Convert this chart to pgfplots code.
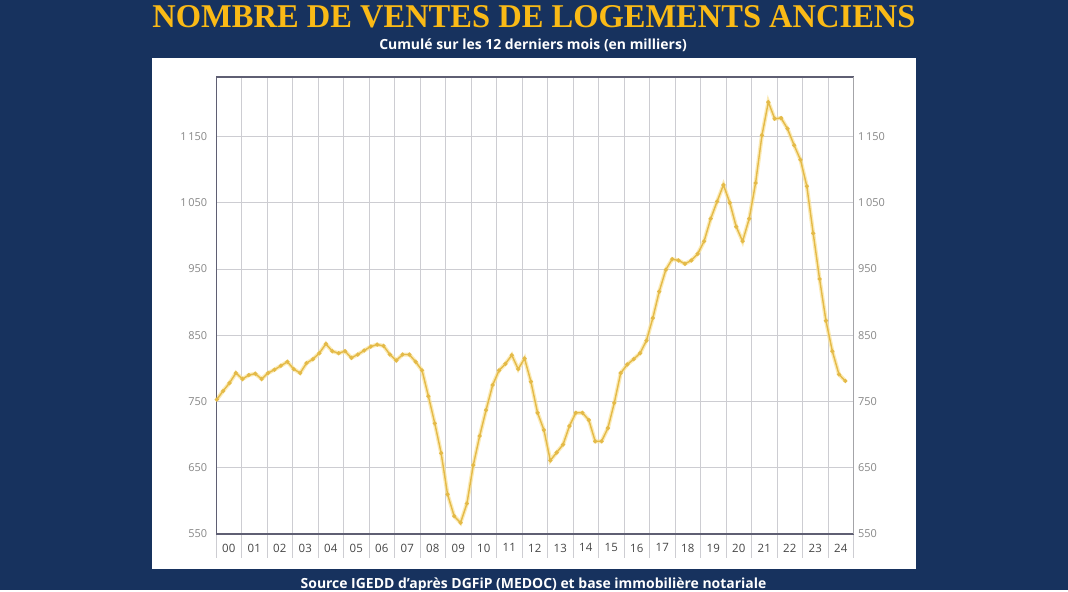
\documentclass[border=0pt]{standalone}
\usepackage{pgfplots}
\pgfplotsset{compat=1.18}
\usepackage{pgfplotstable}
\usepackage{graphicx}
\usepackage{fontspec}
\setmainfont{Open Sans}
\newfontfamily\titlefont{Liberation Serif}
\definecolor{navy}{RGB}{23,50,94}
\definecolor{titlegold}{RGB}{250,186,22}
\definecolor{linegold}{RGB}{228,186,72}
\definecolor{glowgold}{RGB}{250,226,150}
\definecolor{markgold}{RGB}{200,160,50}
\definecolor{gridgray}{RGB}{205,205,210}
\definecolor{axisdark}{RGB}{95,95,115}
\definecolor{ticklab}{RGB}{135,135,135}
\definecolor{xlab}{RGB}{70,70,70}

\pgfplotstableread{
x y
0.03 753
0.28 766
0.53 778
0.78 793
1.04 784
1.29 790
1.54 792
1.79 784
2.04 793
2.29 798
2.545 804
2.80 810
3.05 799
3.30 793
3.55 808
3.80 814
4.05 823
4.31 837
4.56 826
4.81 823
5.06 826
5.31 816
5.56 821
5.81 827
6.07 833
6.32 836
6.57 834
6.82 821
7.07 812
7.32 821
7.58 821
7.83 810
8.08 797
8.33 758
8.58 717
8.83 672
9.08 610
9.34 577
9.59 567
9.84 596
10.09 654
10.34 698
10.59 737
10.85 775
11.10 797
11.35 807
11.60 820
11.85 799
12.10 815
12.35 780
12.61 733
12.86 707
13.11 661
13.36 673
13.61 685
13.86 713
14.11 733
14.37 733
14.62 722
14.87 690
15.12 690
15.37 710
15.62 748
15.87 793
16.13 806
16.38 814
16.63 823
16.88 842
17.13 876
17.38 916
17.64 949
17.89 965
18.14 963
18.39 958
18.64 963
18.89 973
19.14 992
19.40 1026
19.65 1052
19.90 1077
20.15 1050
20.40 1014
20.65 992
20.91 1026
21.16 1080
21.41 1152
21.66 1202
21.91 1177
22.16 1178
22.41 1162
22.67 1137
22.92 1115
23.17 1075
23.42 1004
23.67 935
23.92 872
24.17 826
24.43 791
24.68 781
}\ventes

\begin{document}
\begin{tikzpicture}
\fill[navy] (0bp,0bp) rectangle (1068bp,590bp);
\fill[white] (152bp,21bp) rectangle (916bp,532bp);
\node[text=titlegold,inner sep=0pt] at (534bp,573bp) {\resizebox{763bp}{22bp}{\titlefont\bfseries NOMBRE DE VENTES DE LOGEMENTS ANCIENS}};
\node[text=white,inner sep=0pt,anchor=base] at (533bp,540bp) {\fontsize{14}{16}\selectfont\bfseries Cumulé sur les 12 derniers mois (en milliers)};
\node[text=white,inner sep=0pt,anchor=base] at (533.5bp,1.5bp) {\fontsize{14}{16}\selectfont\bfseries Source IGEDD d'après DGFiP (MEDOC) et base immobilière notariale};

\begin{axis}[
  at={(216bp,56bp)}, anchor=south west,
  width=637.5bp, height=457bp, scale only axis,
  xmin=0, xmax=25, ymin=550, ymax=1240,
  axis line style={draw=none},
  xtick={0.5,1.5,...,24.5},
  xticklabels={00,01,02,03,04,05,06,07,08,09,10,11,12,13,14,15,16,17,18,19,20,21,22,23,24},
  minor xtick={0,1,...,25},
  xminorgrids=true,
  minor x grid style={gridgray, line width=0.8bp},
  tick align=outside,
  xtick pos=bottom,
  major x tick style={draw=none},
  minor x tick style={gridgray, line width=0.8bp},
  minor tick length=24bp,
  xticklabel style={font=\fontsize{11.5}{13}\selectfont, text=xlab, yshift=-2bp},
  ytick={550,650,750,850,950,1050,1150},
  yticklabels={550,650,750,850,950,1\,050,1\,150},
  ytick pos=left,
  y tick style={draw=none},
  ymajorgrids=true,
  major y grid style={gridgray, line width=0.8bp},
  yticklabel style={font=\fontsize{11}{13}\selectfont, text=ticklab, xshift=-1bp},
  clip=false,
]
\addplot[glowgold, line width=4bp, opacity=0.7] table[x=x,y=y] {\ventes};
\addplot[linegold, line width=1.4bp, mark=*, mark size=1.3bp, mark options={fill=markgold, draw=none}] table[x=x,y=y] {\ventes};
\draw[axisdark, line width=2bp] (rel axis cs:0,1) -- (rel axis cs:1,1);
\draw[axisdark, line width=2.2bp] (rel axis cs:0,0) -- (rel axis cs:1,0);
\draw[axisdark, line width=1bp] (rel axis cs:0,0) -- (rel axis cs:0,1);
\draw[gridgray!80!black, line width=0.8bp] (rel axis cs:1,0) -- (rel axis cs:1,1);
\end{axis}

\begin{axis}[
  at={(216bp,56bp)}, anchor=south west,
  width=637.5bp, height=457bp, scale only axis,
  xmin=0, xmax=25, ymin=550, ymax=1240,
  axis line style={draw=none},
  xtick=\empty,
  ytick={550,650,750,850,950,1050,1150},
  yticklabels={550,650,750,850,950,1\,050,1\,150},
  ytick pos=right,
  yticklabel pos=right,
  y tick style={draw=none},
  yticklabel style={font=\fontsize{11}{13}\selectfont, text=ticklab, xshift=1bp},
]
\end{axis}
\end{tikzpicture}
\end{document}
